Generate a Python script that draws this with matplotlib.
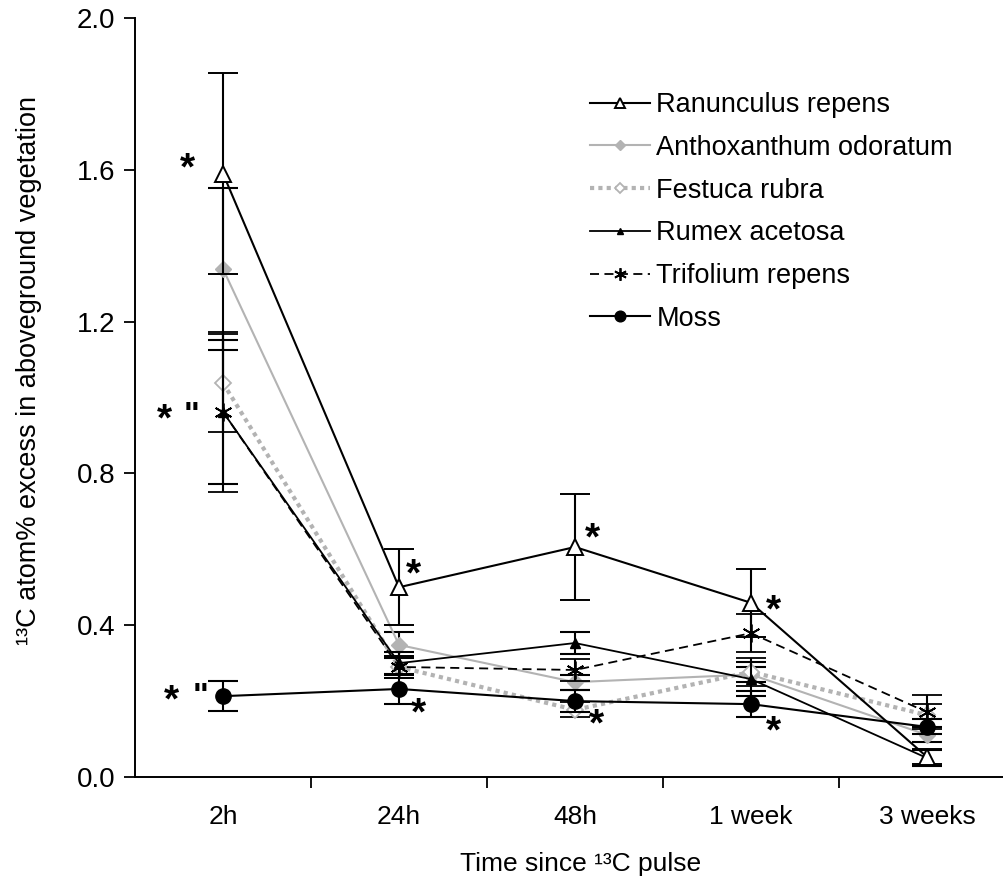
import matplotlib
matplotlib.use("Agg")
import matplotlib.pyplot as plt
import numpy as np

plt.rcParams['font.family'] = ['Liberation Sans', 'DejaVu Sans']

categories = ["2h", "24h", "48h", "1 week", "3 weeks"]

ranunculus = [1.59, 0.50, 0.606, 0.459, 0.053]
ranunculus_err = [0.265, 0.10, 0.14, 0.09, 0.02]
anthoxanthum = [1.339, 0.348, 0.25, 0.27, 0.111]
anthoxanthum_err = [0.213, 0.035, 0.02, 0.02, 0.02]
festuca = [1.038, 0.29, 0.177, 0.277, 0.163]
festuca_err = [0.13, 0.03, 0.02, 0.036, 0.03]
rumex = [0.962, 0.300, 0.353, 0.258, 0.05]
rumex_err = [0.19, 0.03, 0.03, 0.045, 0.02]
trifolium = [0.962, 0.290, 0.282, 0.379, 0.171]
trifolium_err = [0.21, 0.03, 0.03, 0.05, 0.045]
moss = [0.213, 0.232, 0.20, 0.192, 0.132]
moss_err = [0.04, 0.04, 0.03, 0.034, 0.02]

x = np.arange(1, len(categories) + 1)

fig = plt.figure(figsize=(10.04, 8.80), dpi=100)
ax = fig.add_axes([135 / 1004, (880 - 777) / 880, 880 / 1004, 759 / 880])

eb_kw = dict(ecolor='black', elinewidth=1.5, capsize=11, capthick=1.5)

ax.errorbar(x, ranunculus, yerr=ranunculus_err, color='black', lw=1.5,
            marker='^', ms=11, mfc='white', mec='black', mew=1.4,
            label='Ranunculus repens', zorder=6, **eb_kw)
ax.errorbar(x, anthoxanthum, yerr=anthoxanthum_err, color='#b3b3b3', lw=1.5,
            marker='D', ms=8, mfc='#b3b3b3', mec='#b3b3b3',
            label='Anthoxanthum odoratum', zorder=3, **eb_kw)
ax.errorbar(x, festuca, yerr=festuca_err, color='#b3b3b3', lw=3, ls=(0, (1, 1)),
            marker='D', ms=8, mfc='white', mec='#b3b3b3', mew=1.3,
            label='Festuca rubra', zorder=3, **eb_kw)
ax.errorbar(x, rumex, yerr=rumex_err, color='black', lw=1.3,
            marker='^', ms=7, mfc='black', mec='black',
            label='Rumex acetosa', zorder=4, **eb_kw)
ax.errorbar(x, trifolium, yerr=trifolium_err, color='black', lw=1.3, ls=(0, (5, 3)),
            marker=(6, 2, 0), ms=13, mfc='black', mec='black', mew=1.3,
            label='Trifolium repens', zorder=4, **eb_kw)
ax.errorbar(x, moss, yerr=moss_err, color='black', lw=1.5,
            marker='o', ms=11, mfc='black', mec='black',
            label='Moss', zorder=5, **eb_kw)

# significance annotations
star_kw = dict(fontsize=28, fontweight='bold', ha='center', va='center', color='black')
q_kw = dict(fontsize=24, fontweight='bold', ha='center', va='center', color='black')
ax.text(0.80, 1.60, '*', **star_kw)
ax.text(0.67, 0.94, '*', **star_kw)
ax.text(0.82, 0.95, '"', **q_kw)
ax.text(0.71, 0.20, '*', **star_kw)
ax.text(0.87, 0.21, '"', **q_kw)
ax.text(2.08, 0.53, '*', **star_kw)
ax.text(2.11, 0.166, '*', **star_kw)
ax.text(3.10, 0.626, '*', **star_kw)
ax.text(3.12, 0.136, '*', **star_kw)
ax.text(4.13, 0.436, '*', **star_kw)
ax.text(4.13, 0.118, '*', **star_kw)

ax.set_xlim(0.5, 5.5)
ax.set_ylim(0, 2.0)
ax.set_yticks([0.0, 0.4, 0.8, 1.2, 1.6, 2.0])
ax.set_yticklabels(['0.0', '0.4', '0.8', '1.2', '1.6', '2.0'], fontsize=20)
ax.set_xticks([1.5, 2.5, 3.5, 4.5], minor=False)
ax.set_xticklabels([])
ax.set_xticks(x, minor=True)
ax.set_xticklabels(categories, minor=True, fontsize=19)
ax.tick_params(axis='x', which='minor', length=0, pad=20)
ax.tick_params(axis='x', which='major', length=8, width=1.3, direction='out')
ax.tick_params(axis='y', length=8, width=1.3, direction='out', pad=6)

for s in ['top', 'right']:
    ax.spines[s].set_visible(False)
for s in ['left', 'bottom']:
    ax.spines[s].set_linewidth(1.4)

ax.set_xlabel('Time since ¹³C pulse', fontsize=19)
ax.xaxis.set_label_coords(0.506, -0.099)
ax.set_ylabel('¹³C atom% excess in aboveground vegetation', fontsize=19.5)
ax.yaxis.set_label_coords(-0.106, 0.536)

handles, labels = ax.get_legend_handles_labels()
handles = [h[0] for h in handles]
leg = ax.legend(handles, labels, loc='upper left', bbox_to_anchor=(590 / 1004, 1 - 92 / 880),
                bbox_transform=fig.transFigure, frameon=False, fontsize=19.5,
                handlelength=2.2, handletextpad=0.25, labelspacing=0.62, markerscale=0.7,
                borderaxespad=0, borderpad=0)

fig.savefig('out.png', dpi=100)
